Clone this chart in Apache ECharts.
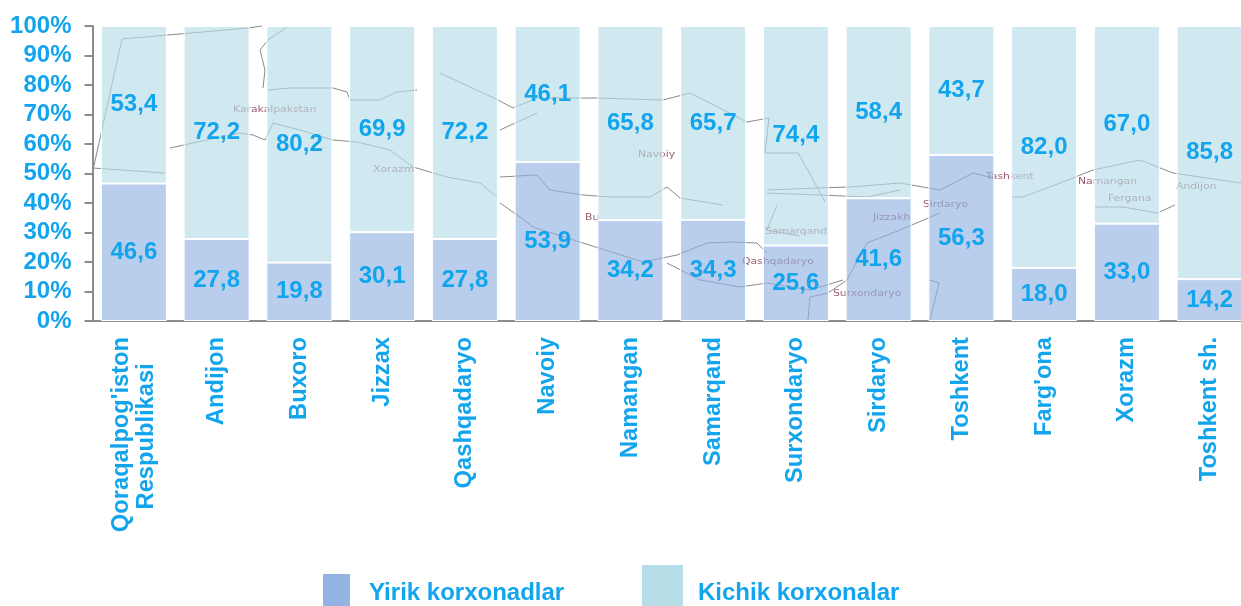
<!DOCTYPE html>
<html>
<head>
<meta charset="utf-8">
<style>
  html, body { margin: 0; padding: 0; background: #fff; overflow: hidden; }
  /* the last band runs past the window edge in the source picture */
  #chart { width: 1252px; height: 606px; }
</style>
<script src="https://cdn.jsdelivr.net/npm/echarts@6/dist/echarts.min.js"></script>
</head>
<body>
<div id="chart"></div>
<script>
const categories = ["Qoraqalpog'iston\nRespublikasi    ", 'Andijon', 'Buxoro', 'Jizzax', 'Qashqadaryo', 'Navoiy', 'Namangan', 'Samarqand', 'Surxondaryo', 'Sirdaryo', 'Toshkent', "Farg'ona", 'Xorazm', 'Toshkent sh.']
const largeShare = [46.6, 27.8, 19.8, 30.1, 27.8, 53.9, 34.2, 34.3, 25.6, 41.6, 56.3, 18.0, 33.0, 14.2]
const smallShare = [53.4, 72.2, 80.2, 69.9, 72.2, 46.1, 65.8, 65.7, 74.4, 58.4, 43.7, 82.0, 67.0, 85.8]
const largeName = 'Yirik korxonadlar'
const smallName = 'Kichik korxonalar'

// faint map behind the bars, traced by eye
const mapLines = [
  [[93, 170], [122, 39], [248, 28], [262, 26]],
  [[93, 168], [165, 173]],
  [[170, 148], [193, 143], [240, 133], [253, 135], [265, 140], [273, 123], [300, 130], [333, 140], [357, 142], [390, 150], [413, 167], [430, 172], [447, 177], [480, 183], [497, 197]],
  [[287, 27], [268, 40], [260, 50], [265, 70], [263, 88]],
  [[268, 90], [290, 88], [333, 88], [347, 92], [350, 100], [380, 100], [397, 92], [417, 90]],
  [[440, 73], [498, 100], [513, 108], [537, 98], [597, 98], [663, 100], [690, 93], [747, 122], [769, 118], [765, 153], [798, 153], [815, 183], [825, 202]],
  [[500, 130], [537, 113]],
  [[500, 177], [537, 175], [550, 190], [583, 195], [610, 197], [623, 197], [650, 197], [667, 187], [680, 198], [723, 205]],
  [[500, 203], [520, 217], [533, 227], [583, 243], [643, 262], [677, 255], [707, 243], [730, 242], [757, 243], [767, 253]],
  [[667, 263], [700, 280], [740, 287], [767, 283], [810, 290], [843, 280]],
  [[767, 190], [817, 188], [850, 187], [900, 183], [940, 190], [973, 173], [993, 178]],
  [[767, 193], [820, 195], [867, 197], [900, 190]],
  [[777, 205], [767, 230], [800, 236]],
  [[808, 320], [810, 297], [828, 293], [847, 280], [867, 243], [900, 230], [940, 213]],
  [[1012, 197], [1023, 197], [1060, 183], [1093, 170], [1140, 160], [1173, 173], [1241, 183]],
  [[1095, 207], [1123, 207], [1157, 213], [1175, 205]],
  [[930, 280], [939, 283], [930, 320]]
]
const mapLabels = [
  { text: 'Karakalpakstan', x: 233, y: 110 },
  { text: 'Xorazm', x: 373, y: 170 },
  { text: 'Navoiy', x: 638, y: 155 },
  { text: 'Bu', x: 585, y: 218 },
  { text: 'Samarqand', x: 765, y: 232 },
  { text: 'Qashqadaryo', x: 742, y: 262 },
  { text: 'Jizzakh', x: 873, y: 218 },
  { text: 'Surxondaryo', x: 833, y: 294 },
  { text: 'Sirdaryo', x: 923, y: 205 },
  { text: 'Tashkent', x: 986, y: 177 },
  { text: 'Namangan', x: 1078, y: 182 },
  { text: 'Fergana', x: 1108, y: 199 },
  { text: 'Andijon', x: 1176, y: 187 }
]

const textColor = '#12a5ee'
const axisColor = '#8c8c8c'
const fontFamily = '"Liberation Sans", Arial, sans-serif'

const barLabel = {
  show: true,
  position: 'inside',
  color: textColor,
  fontFamily,
  fontWeight: 'bold',
  fontSize: 24,
  formatter: (params) => params.value.toFixed(1).replace('.', ',')
}

const legendFont = { color: textColor, fontFamily, fontWeight: 'bold', fontSize: 24 }

const legendBase = {
  orient: 'horizontal',
  icon: 'rect',
  padding: 0,
  selectedMode: false,
  formatter: '{t|{name}}'
}

const mapGraphics = [
  ...mapLines.map((points) => ({
    type: 'polyline',
    silent: true,
    z: -1,
    shape: { points },
    style: { stroke: '#8a8a8a', lineWidth: 1, fill: null }
  })),
  ...mapLabels.map((item) => ({
    type: 'text',
    silent: true,
    z: -1,
    x: item.x,
    y: item.y,
    scaleX: 1.35,
    style: { text: item.text, fill: '#9c5a6e', font: '8px "DejaVu Sans"', textVerticalAlign: 'middle' }
  }))
]

const chart = echarts.init(document.getElementById('chart'), null, { renderer: 'canvas' })
chart.setOption({
  animation: false,
  backgroundColor: '#fff',
  grid: { left: 92.5, top: 26, width: 1158.5, height: 295, containLabel: false },
  graphic: mapGraphics,
  legend: [
    { ...legendBase, data: [largeName], left: 323, top: 574, itemWidth: 27, itemHeight: 32, itemStyle: { color: '#93b4e3', borderWidth: 0 },
      textStyle: { ...legendFont, rich: { t: { ...legendFont, padding: [6, 0, 0, 14] } } } },
    { ...legendBase, data: [smallName], left: 642, top: 565, itemWidth: 41, itemHeight: 41, itemStyle: { color: '#b7dde8', borderWidth: 0 },
      textStyle: { ...legendFont, rich: { t: { ...legendFont, padding: [16, 0, 0, 10] } } } }
  ],
  xAxis: {
    type: 'category',
    data: categories,
    axisLine: { lineStyle: { color: axisColor, width: 2 } },
    axisTick: { length: 7, lineStyle: { color: axisColor, width: 2 } },
    axisLabel: {
      interval: 0,
      rotate: 90,
      margin: 16,
      color: textColor,
      fontFamily,
      fontWeight: 'bold',
      fontSize: 23.7,
      lineHeight: 25
    }
  },
  yAxis: {
    type: 'value',
    min: 0,
    max: 100,
    interval: 10,
    splitLine: { show: false },
    axisLine: { show: true, lineStyle: { color: axisColor, width: 2 } },
    axisTick: { show: true, length: 8, lineStyle: { color: axisColor, width: 2 } },
    axisLabel: {
      formatter: '{value}%',
      margin: 21,
      color: textColor,
      fontFamily,
      fontWeight: 'bold',
      fontSize: 24
    }
  },
  series: [
    {
      name: largeName,
      type: 'bar',
      stack: 'share',
      barWidth: 66,
      data: largeShare,
      label: barLabel,
      itemStyle: { color: 'rgba(147, 180, 227, 0.65)', borderColor: '#fff', borderWidth: 1 }
    },
    {
      name: smallName,
      type: 'bar',
      stack: 'share',
      barWidth: 66,
      data: smallShare,
      label: barLabel,
      itemStyle: { color: 'rgba(183, 221, 232, 0.65)', borderColor: '#fff', borderWidth: 1 }
    }
  ]
})
</script>
</body>
</html>
